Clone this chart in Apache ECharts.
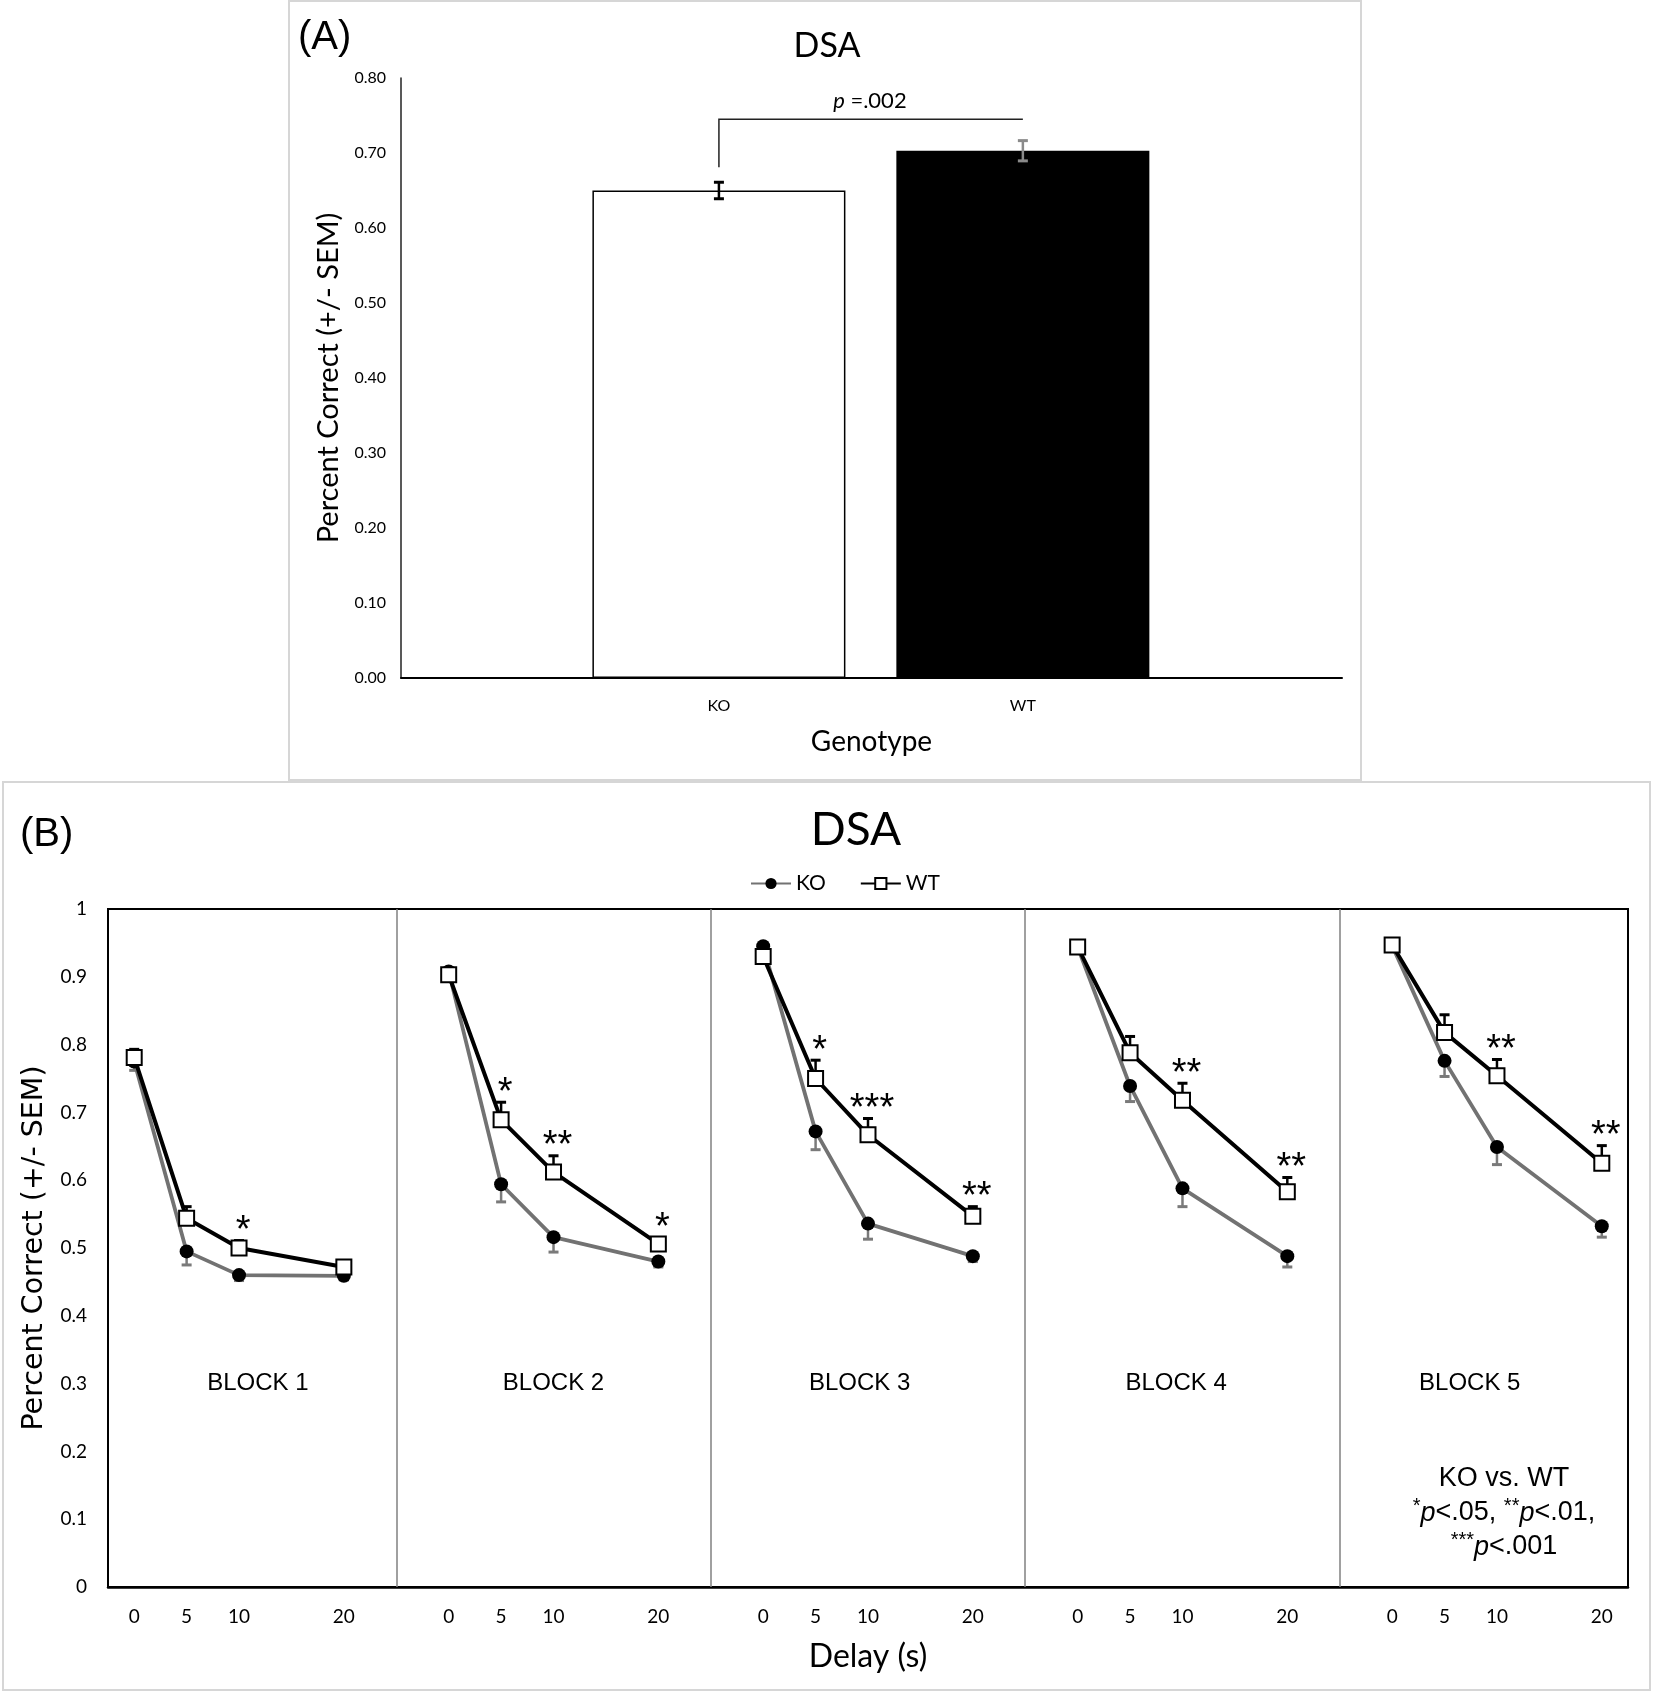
<!DOCTYPE html>
<html>
<head>
<meta charset="utf-8">
<title>DSA</title>
<script src="https://cdn.jsdelivr.net/npm/echarts@6/dist/echarts.min.js"></script>
<style>
html, body { margin: 0; padding: 0; background: #fff; }
#chart { width: 1654px; height: 1693px; }
</style>
</head>
<body>
<div id="chart"></div>
<script>
// (A) overall accuracy by genotype
var genotypes = ['KO', 'WT'];
var overallMean = [0.650, 0.703];
var overallSem = [0.011, 0.0135];
var pValueA = '.002';

// (B) accuracy by block and delay
var delays = [0, 5, 10, 20];
var blockNames = ['BLOCK 1', 'BLOCK 2', 'BLOCK 3', 'BLOCK 4', 'BLOCK 5'];
var koMeans = [
    [0.775, 0.495, 0.460, 0.459],
    [0.908, 0.594, 0.516, 0.480],
    [0.945, 0.672, 0.536, 0.488],
    [0.944, 0.739, 0.588, 0.488],
    [0.946, 0.776, 0.649, 0.532]
];
var wtMeans = [
    [0.781, 0.544, 0.500, 0.472],
    [0.903, 0.689, 0.612, 0.506],
    [0.930, 0.750, 0.667, 0.547],
    [0.944, 0.788, 0.718, 0.583],
    [0.947, 0.818, 0.754, 0.625]
];
var koSem = [
    [0.013, 0.020, 0.008, 0.006],
    [0.008, 0.026, 0.022, 0.008],
    [0.008, 0.027, 0.023, 0.008],
    [0.008, 0.023, 0.027, 0.016],
    [0.008, 0.023, 0.026, 0.016]
];
var wtSem = [
    [0.012, 0.017, 0.011, 0.008],
    [0.008, 0.026, 0.024, 0.009],
    [0.010, 0.027, 0.024, 0.014],
    [0.008, 0.024, 0.025, 0.021],
    [0.008, 0.026, 0.024, 0.026]
];
var stars = [
    ['', '', '*', ''],
    ['', '*', '**', '*'],
    ['', '*', '***', '**'],
    ['', '', '**', '**'],
    ['', '', '**', '**']
];

// layout: every block takes 30 s of the shared delay axis
var BLOCK_SPAN = 30;
var blockLabelX = [11.8, 40.0, 69.2, 99.4, 127.4];
var FONT_C = 'Lato';
var FONT_A = '"Liberation Sans", Arial, sans-serif';

function xOf(b, d) {
    return b * BLOCK_SPAN + d;
}

function each(arr, fn) {
    for (var i = 0; i < arr.length; i++) fn(arr[i], i);
}

var koLine = [], wtLine = [], koErr = [], wtErr = [], starItems = [], tickValuesB = [], dividers = [];

each(blockNames, function(name, b) {
    each(delays, function(d, j) {
        var x = xOf(b, d);
        koLine.push([x, koMeans[b][j]]);
        wtLine.push([x, wtMeans[b][j]]);
        koErr.push([x, koMeans[b][j], koSem[b][j]]);
        wtErr.push([x, wtMeans[b][j], wtSem[b][j]]);
        tickValuesB.push(x);
        if (stars[b][j]) {
            starItems.push({ value: [x, wtMeans[b][j] + wtSem[b][j]], text: stars[b][j] });
        }
    });
    // break the line between blocks
    koLine.push([xOf(b, 25), null]);
    wtLine.push([xOf(b, 25), null]);
    if (b < blockNames.length - 1) dividers.push({ xAxis: xOf(b, 25) });
});

function errorBars(dir, color, both) {
    return function(params, api) {
        var x = api.value(0), m = api.value(1), e = api.value(2);
        var top = api.coord([x, m + dir * e]);
        var bot = both ? api.coord([x, m - dir * e]) : api.coord([x, m]);
        var w = 5;
        var kids = [
            { type: 'line', shape: { x1: top[0], y1: top[1], x2: bot[0], y2: bot[1] }, style: { stroke: color, lineWidth: 2.5 } },
            { type: 'line', shape: { x1: top[0] - w, y1: top[1], x2: top[0] + w, y2: top[1] }, style: { stroke: color, lineWidth: 3 } }
        ];
        if (both) {
            kids.push({ type: 'line', shape: { x1: bot[0] - w, y1: bot[1], x2: bot[0] + w, y2: bot[1] }, style: { stroke: color, lineWidth: 3 } });
        }
        return { type: 'group', children: kids };
    };
}

var chart = echarts.init(document.getElementById('chart'));

chart.setOption({
    animation: false,
    backgroundColor: '#fff',
    textStyle: { fontFamily: FONT_C, color: '#000' },
    graphic: [
        { type: 'rect', silent: true, shape: { x: 289, y: 1, width: 1072, height: 779 }, style: { fill: 'none', stroke: '#d6d6d6', lineWidth: 2 } },
        { type: 'rect', silent: true, shape: { x: 3, y: 782, width: 1647, height: 908 }, style: { fill: 'none', stroke: '#d6d6d6', lineWidth: 2 } },
        { type: 'text', x: 298, y: 38, style: { text: '(A)', font: '40px ' + FONT_A, fill: '#000', textAlign: 'left', textVerticalAlign: 'middle', align: 'left', verticalAlign: 'middle' } },
        { type: 'text', x: 20, y: 835, style: { text: '(B)', font: '40px ' + FONT_A, fill: '#000', textAlign: 'left', textVerticalAlign: 'middle', align: 'left', verticalAlign: 'middle' } },
        { type: 'text', x: 827, y: 46, style: { text: 'DSA', font: '34px ' + FONT_C, fill: '#000', textAlign: 'center', textVerticalAlign: 'middle', align: 'center', verticalAlign: 'middle' } },
        { type: 'text', x: 856, y: 830, style: { text: 'DSA', font: '46px ' + FONT_C, fill: '#000', textAlign: 'center', textVerticalAlign: 'middle', align: 'center', verticalAlign: 'middle' } },
        {
            type: 'text', x: 1504, y: 1513,
            style: {
                text: 'KO vs. WT\n{s|*}{i|p}<.05, {s|**}{i|p}<.01,\n{s|***}{i|p}<.001',
                font: '27px ' + FONT_A, fill: '#000', lineHeight: 34,
                textAlign: 'center', textVerticalAlign: 'middle', align: 'center', verticalAlign: 'middle',
                rich: {
                    s: { fontSize: 20, fontFamily: FONT_A, verticalAlign: 'top', lineHeight: 34 },
                    i: { fontSize: 27, fontFamily: FONT_A, fontStyle: 'italic', lineHeight: 34 }
                }
            }
        }
    ],
    legend: {
        left: 745, top: 868,
        itemWidth: 40, itemHeight: 14, itemGap: 34,
        data: ['KO', 'WT'],
        textStyle: { fontFamily: FONT_C, fontSize: 21, color: '#000' }
    },
    grid: [
        { left: 401, top: 78, width: 941, height: 600 },
        { left: 108, top: 909, width: 1520, height: 678, show: true, borderColor: '#000', borderWidth: 2 }
    ],
    xAxis: [{
        gridIndex: 0, type: 'value', min: -0.046, max: 3.05,
        splitLine: { show: false }, axisTick: { show: false },
        axisLine: { show: true, onZero: false, lineStyle: { color: '#000', width: 2 } },
        axisLabel: {
            customValues: [1, 2], margin: 20, fontFamily: FONT_C, fontSize: 16, color: '#000',
            formatter: function(v) { return genotypes[Math.round(v) - 1]; }
        },
        name: 'Genotype', nameLocation: 'middle', nameGap: 50,
        nameTextStyle: { fontFamily: FONT_C, fontSize: 28, color: '#000' }
    }, {
        gridIndex: 1, type: 'value', min: -2.5, max: 142.5,
        splitLine: { show: false }, axisTick: { show: false },
        axisLine: { show: true, onZero: false, lineStyle: { color: '#000', width: 2.5 } },
        axisLabel: {
            customValues: tickValuesB, margin: 20, fontFamily: FONT_C, fontSize: 19, color: '#000',
            formatter: function(v) { return String(Math.round(v) % BLOCK_SPAN); }
        },
        name: 'Delay (s)', nameLocation: 'middle', nameGap: 54,
        nameTextStyle: { fontFamily: FONT_C, fontSize: 32, color: '#000' }
    }],
    yAxis: [{
        gridIndex: 0, type: 'value', min: 0, max: 0.8, interval: 0.1,
        splitLine: { show: false }, axisTick: { show: false },
        axisLine: { show: true, onZero: false, lineStyle: { color: '#222', width: 1.5 } },
        axisLabel: {
            margin: 15, fontFamily: FONT_C, fontSize: 16, color: '#000',
            formatter: function(v) { return v.toFixed(2); }
        },
        name: 'Percent Correct (+/- SEM)', nameLocation: 'middle', nameGap: 58,
        nameTextStyle: { fontFamily: FONT_C, fontSize: 29, color: '#000' }
    }, {
        gridIndex: 1, type: 'value', min: 0, max: 1, interval: 0.1,
        splitLine: { show: false }, axisTick: { show: false },
        axisLine: { show: true, onZero: false, lineStyle: { color: '#000', width: 2 } },
        axisLabel: {
            margin: 21, fontFamily: FONT_C, fontSize: 19, color: '#000',
            formatter: function(v) { return String(+v.toFixed(1)); }
        },
        name: 'Percent Correct (+/- SEM)', nameLocation: 'middle', nameGap: 56,
        nameTextStyle: { fontFamily: 'DejaVu Sans', fontSize: 28.5, color: '#000' }
    }],
    series: [
        {
            name: 'Genotype', type: 'bar', xAxisIndex: 0, yAxisIndex: 0, barWidth: 253,
            data: genotypes.map(function(g, i) {
                return {
                    value: [i + 1, overallMean[i]],
                    itemStyle: i === 0 ? { color: '#fff', borderColor: '#000', borderWidth: 1.5 } : { color: '#000' }
                };
            }),
            z: 1
        },
        {
            type: 'custom', xAxisIndex: 0, yAxisIndex: 0, z: 3,
            data: genotypes.map(function(g, i) { return [i + 1, overallMean[i], overallSem[i]]; }),
            renderItem: function(params, api) {
                var color = params.dataIndex === 0 ? '#000' : '#8a8a8a';
                return errorBars(1, color, true)(params, api);
            }
        },
        {
            // significance bracket KO vs WT
            type: 'custom', xAxisIndex: 0, yAxisIndex: 0, z: 3,
            data: [[1, 2, 0.745, 0.681]],
            renderItem: function(params, api) {
                var a = api.coord([api.value(0), api.value(2)]);
                var b = api.coord([api.value(1), api.value(2)]);
                var c = api.coord([api.value(0), api.value(3)]);
                return {
                    type: 'group',
                    children: [
                        { type: 'polyline', shape: { points: [[c[0], c[1]], [a[0], a[1]], [b[0], b[1]]] }, style: { stroke: '#222', lineWidth: 1.5, fill: 'none' } },
                        {
                            type: 'text', x: (a[0] + b[0]) / 2 - 1, y: a[1] - 18,
                            style: {
                                text: '{i|p} =' + pValueA, font: '22px ' + FONT_C, fill: '#000',
                                textAlign: 'center', textVerticalAlign: 'middle', align: 'center', verticalAlign: 'middle',
                                rich: { i: { fontStyle: 'italic', fontSize: 22, fontFamily: FONT_C } }
                            }
                        }
                    ]
                };
            }
        },
        {
            type: 'custom', xAxisIndex: 1, yAxisIndex: 1, z: 1,
            data: koErr, renderItem: errorBars(-1, '#7a7a7a', false)
        },
        {
            type: 'custom', xAxisIndex: 1, yAxisIndex: 1, z: 1,
            data: wtErr, renderItem: errorBars(1, '#000', false)
        },
        {
            name: 'KO', type: 'line', xAxisIndex: 1, yAxisIndex: 1, z: 2,
            data: koLine, connectNulls: false,
            symbol: 'circle', symbolSize: 14,
            itemStyle: { color: '#000' },
            lineStyle: { color: '#727272', width: 3.8 },
            markLine: {
                silent: true, symbol: ['none', 'none'], label: { show: false },
                lineStyle: { color: '#808080', width: 1.5, type: 'solid' },
                data: dividers
            }
        },
        {
            name: 'WT', type: 'line', xAxisIndex: 1, yAxisIndex: 1, z: 3,
            data: wtLine, connectNulls: false,
            symbol: 'rect', symbolSize: 15,
            itemStyle: { color: '#fff', borderColor: '#000', borderWidth: 2 },
            lineStyle: { color: '#000', width: 4 }
        },
        {
            // significance stars
            type: 'custom', xAxisIndex: 1, yAxisIndex: 1, z: 4,
            data: starItems.map(function(s) { return s.value; }),
            renderItem: function(params, api) {
                var p = api.coord([api.value(0), api.value(1)]);
                return {
                    type: 'text', x: p[0] + 4, y: p[1] - 9,
                    style: {
                        text: starItems[params.dataIndex].text, font: '38px ' + FONT_A, fill: '#000',
                        textAlign: 'center', textVerticalAlign: 'middle', align: 'center', verticalAlign: 'middle'
                    }
                };
            }
        },
        {
            // block names
            type: 'custom', xAxisIndex: 1, yAxisIndex: 1, z: 4,
            data: blockLabelX.map(function(x) { return [x, 0.3]; }),
            renderItem: function(params, api) {
                var p = api.coord([api.value(0), api.value(1)]);
                return {
                    type: 'text', x: p[0], y: p[1],
                    style: {
                        text: blockNames[params.dataIndex], font: '24px ' + FONT_A, fill: '#000',
                        textAlign: 'center', textVerticalAlign: 'middle', align: 'center', verticalAlign: 'middle'
                    }
                };
            }
        }
    ]
});
</script>
</body>
</html>
